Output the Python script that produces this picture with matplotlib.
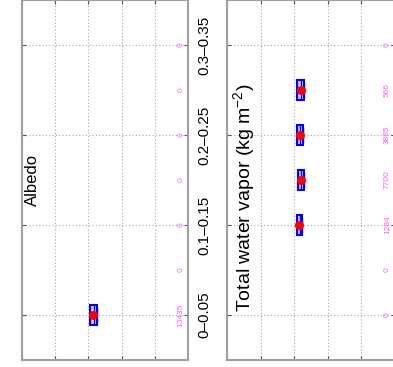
import matplotlib.pyplot as plt
import matplotlib.transforms as mtransforms

plt.rcParams['font.family'] = ['Liberation Sans', 'DejaVu Sans']
plt.rcParams['mathtext.default'] = 'regular'

# Dados (classes de albedo, 7 caixas)
categorias = ['0\u20130.05', '0.05\u20130.1', '0.1\u20130.15', '0.15\u20130.2',
              '0.2\u20130.25', '0.25\u20130.3', '0.3\u20130.35']
posicoes = [1, 2, 3, 4, 5, 6, 7]

# painel esquerdo: Albedo
albedo_n = [13435, 0, 0, 0, 0, 0, 0]
albedo_q1 = [0.546, None, None, None, None, None, None]
albedo_med = [0.568, None, None, None, None, None, None]
albedo_q3 = [0.590, None, None, None, None, None, None]
albedo_media = [0.572, None, None, None, None, None, None]

# painel direito: vapor de agua total (kg m-2)
vapor_n = [0, 0, 1284, 7700, 3885, 566, 0]
vapor_q1 = [None, None, 27.7, 27.1, 27.4, 27.1, None]
vapor_med = [None, None, 28.4, 28.0, 28.3, 28.1, None]
vapor_q3 = [None, None, 29.2, 28.9, 29.2, 29.3, None]
vapor_media = [None, None, 28.6, 28.0, 28.3, 28.1, None]

rosa = '#ff5cff'
azul = '#0000ff'
cinza = '#a0a0a0'

fig = plt.figure(figsize=(3.93, 3.67), dpi=100)
ax1 = fig.add_axes([22 / 393, 7 / 367, 166 / 393, 360 / 367])
ax2 = fig.add_axes([227 / 393, 7 / 367, 168 / 393, 360 / 367])


def desenha(ax, q1, med, q3, media, n, vmax, xtexto, rotulos):
    stats = []
    pos = []
    for i in range(len(n)):
        if q1[i] is None:
            continue
        stats.append({'q1': q1[i], 'med': med[i], 'q3': q3[i], 'mean': media[i],
                      'whislo': q1[i], 'whishi': q3[i], 'fliers': []})
        pos.append(posicoes[i])
    ax.bxp(stats, positions=pos, widths=0.45, orientation='horizontal',
           showmeans=True, showcaps=True, patch_artist=True,
           boxprops=dict(edgecolor=azul, facecolor='#d8d8ff', linewidth=1.5),
           medianprops=dict(color=azul, linewidth=1.0),
           whiskerprops=dict(color=azul, linewidth=1.0),
           capprops=dict(color=azul, linewidth=1.0),
           capwidths=0.3,
           meanprops=dict(marker='o', markerfacecolor='red',
                          markeredgecolor='red', markersize=5.5))
    ax.set_xlim(vmax, 0)
    ax.set_ylim(0, 8)
    ax.set_xticks([vmax * k / 5 for k in range(6)])
    ax.set_yticks([1, 3, 5, 7])
    ax.set_yticklabels([categorias[0], categorias[2], categorias[4], categorias[6]])
    ax.grid(True, linestyle=(0, (1, 2)), color='#a8a8a8', linewidth=0.8)
    ax.tick_params(direction='in', top=True, bottom=True, left=True, right=True,
                   labelbottom=False, labelleft=False, labelright=rotulos,
                   color='#555555', length=3, labelsize=11, pad=7)
    for lbl in ax.get_yticklabels():
        lbl.set_rotation(90)
        lbl.set_va('center')
    for s in ax.spines.values():
        s.set_color(cinza)
        s.set_linewidth(1.5)
    trans = mtransforms.blended_transform_factory(ax.transAxes, ax.transData)
    for i in range(len(n)):
        ax.text(xtexto, posicoes[i], str(n[i]), transform=trans, rotation=90,
                ha='center', va='center', color=rosa, fontsize=6)


desenha(ax1, albedo_q1, albedo_med, albedo_q3, albedo_media, albedo_n, 1.0, 0.958, True)
desenha(ax2, vapor_q1, vapor_med, vapor_q3, vapor_media, vapor_n, 50, 0.955, False)

ax1.text(0.062, 0.5, 'Albedo', transform=ax1.transAxes, rotation=90,
         ha='center', va='center', fontsize=12)
ax2.text(0.10, 0.45, 'Total water vapor (kg m$^{-2}$)', transform=ax2.transAxes,
         rotation=90, ha='center', va='center', fontsize=14)

fig.savefig('out.png', dpi=100)
